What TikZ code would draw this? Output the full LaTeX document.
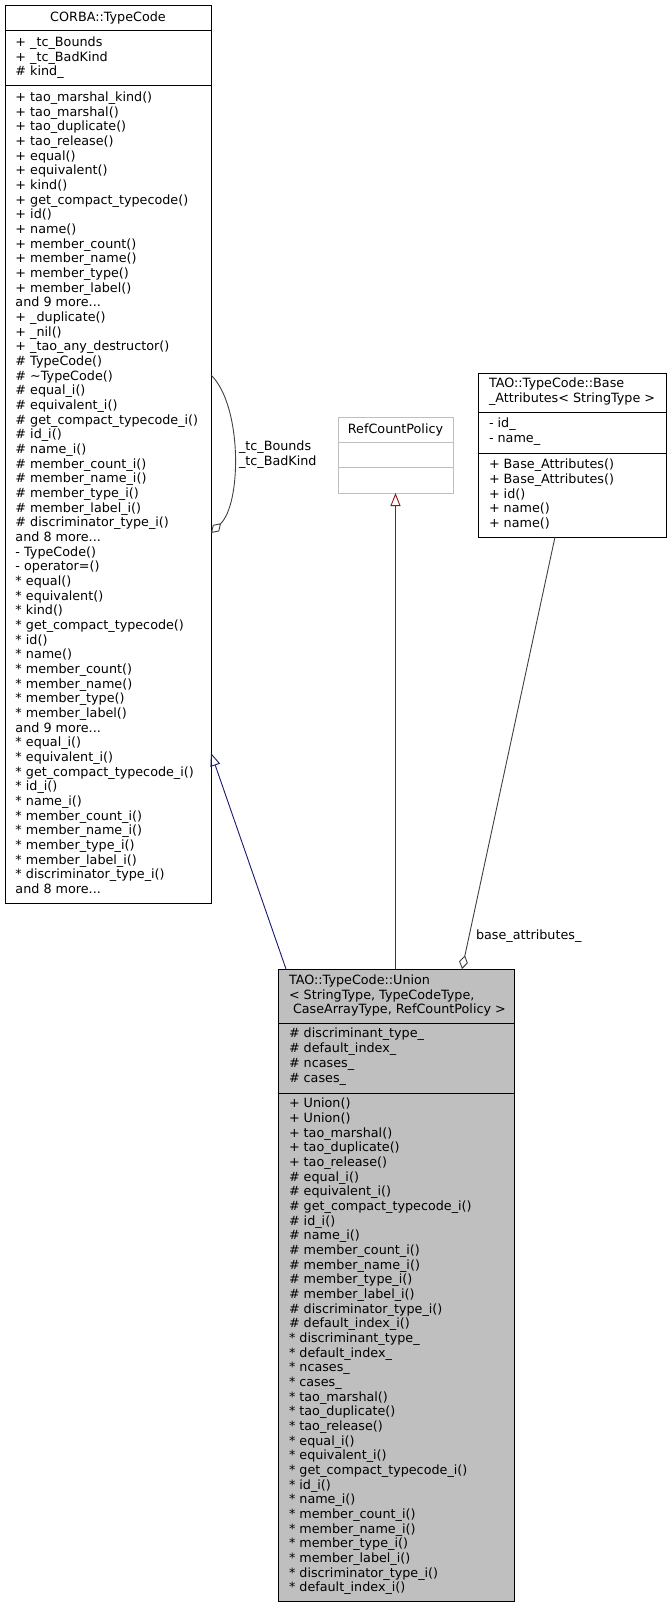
\documentclass[tikz,border=0pt]{standalone}
\usepackage{fontspec}
\setmainfont{DejaVu Sans}
\usetikzlibrary{arrows.meta,calc}
\definecolor{midnightblue}{HTML}{191970}
\definecolor{firebrickfour}{HTML}{8B1A1A}
\definecolor{greytf}{HTML}{404040}
\definecolor{unionfill}{HTML}{BFBFBF}
\newcommand\umlfont{\fontsize{12.75}{14.67}\selectfont}
\begin{document}
\begin{tikzpicture}[x=1pt,y=-1pt,
  classbox/.style={draw=black,line width=1pt,inner sep=0pt,outer sep=0pt,anchor=north west},
  txt/.style={inner sep=0pt,outer sep=0pt,anchor=north west,align=left,font=\umlfont,
    execute at begin node={\rule{0pt}{10pt}}},
  ttl/.style={inner sep=0pt,outer sep=0pt,anchor=base,align=center,font=\umlfont},
  conn/.style={line width=0.9pt}]
\useasboundingbox (0,0) rectangle (671,1608);

% ---------------- CORBA::TypeCode ----------------
\node[classbox,minimum width=206pt,minimum height=897pt] (corba) at (5,6) {};
\draw[line width=1pt] ([yshift=-25pt]corba.north west) -- ([yshift=-25pt]corba.north east);
\draw[line width=1pt] ([yshift=-80pt]corba.north west) -- ([yshift=-80pt]corba.north east);
\node[ttl] (corbattl) at (108,21.5) {CORBA::TypeCode};
\node[txt] (corbaattr) at (15.5,36.7) {+ \_tc\_Bounds\\+ \_tc\_BadKind\\\# kind\_};
\node[txt] (corbameth) at (15.5,91.7) {+ tao\_marshal\_kind()\\
+ tao\_marshal()\\
+ tao\_duplicate()\\
+ tao\_release()\\
+ equal()\\
+ equivalent()\\
+ kind()\\
+ get\_compact\_typecode()\\
+ id()\\
+ name()\\
+ member\_count()\\
+ member\_name()\\
+ member\_type()\\
+ member\_label()\\
and 9 more...\\
+ \_duplicate()\\
+ \_nil()\\
+ \_tao\_any\_destructor()\\
\# TypeCode()\\
\# \textasciitilde TypeCode()\\
\# equal\_i()\\
\# equivalent\_i()\\
\# get\_compact\_typecode\_i()\\
\# id\_i()\\
\# name\_i()\\
\# member\_count\_i()\\
\# member\_name\_i()\\
\# member\_type\_i()\\
\# member\_label\_i()\\
\# discriminator\_type\_i()\\
and 8 more...\\
- TypeCode()\\
- operator=()\\
* equal()\\
* equivalent()\\
* kind()\\
* get\_compact\_typecode()\\
* id()\\
* name()\\
* member\_count()\\
* member\_name()\\
* member\_type()\\
* member\_label()\\
and 9 more...\\
* equal\_i()\\
* equivalent\_i()\\
* get\_compact\_typecode\_i()\\
* id\_i()\\
* name\_i()\\
* member\_count\_i()\\
* member\_name\_i()\\
* member\_type\_i()\\
* member\_label\_i()\\
* discriminator\_type\_i()\\
and 8 more...};

% ---------------- RefCountPolicy ----------------
\node[classbox,draw=unionfill,minimum width=115pt,minimum height=76pt] (refcp) at (338,417) {};
\draw[line width=1pt,unionfill] ([yshift=-25pt]refcp.north west) -- ([yshift=-25pt]refcp.north east);
\draw[line width=1pt,unionfill] ([yshift=-50pt]refcp.north west) -- ([yshift=-50pt]refcp.north east);
\node[ttl] (refcpttl) at (395.5,433) {RefCountPolicy};

% ---------------- Base_Attributes ----------------
\node[classbox,minimum width=188pt,minimum height=164pt] (base) at (478,373) {};
\draw[line width=1pt] ([yshift=-39pt]base.north west) -- ([yshift=-39pt]base.north east);
\draw[line width=1pt] ([yshift=-80pt]base.north west) -- ([yshift=-80pt]base.north east);
\node[txt] (basettl) at (489,378.3) {TAO::TypeCode::Base\\\_Attributes< StringType >};
\node[txt] (baseattr) at (489,418.3) {- id\_\\- name\_};
\node[txt] (basemeth) at (489,459) {+ Base\_Attributes()\\
+ Base\_Attributes()\\
+ id()\\
+ name()\\
+ name()};

% ---------------- Union ----------------
\node[classbox,fill=unionfill,minimum width=236pt,minimum height=632pt] (union) at (278,969) {};
\draw[line width=1pt] ([yshift=-54pt]union.north west) -- ([yshift=-54pt]union.north east);
\draw[line width=1pt] ([yshift=-124pt]union.north west) -- ([yshift=-124pt]union.north east);
\node[txt] (unionttl) at (289,974.7) {TAO::TypeCode::Union\\
< StringType, TypeCodeType,\\
\kern4pt CaseArrayType, RefCountPolicy >};
\node[txt] (unionattr) at (289,1028.3) {\# discriminant\_type\_\\
\# default\_index\_\\
\# ncases\_\\
\# cases\_};
\node[txt] (unionmeth) at (289,1098) {+ Union()\\
+ Union()\\
+ tao\_marshal()\\
+ tao\_duplicate()\\
+ tao\_release()\\
\# equal\_i()\\
\# equivalent\_i()\\
\# get\_compact\_typecode\_i()\\
\# id\_i()\\
\# name\_i()\\
\# member\_count\_i()\\
\# member\_name\_i()\\
\# member\_type\_i()\\
\# member\_label\_i()\\
\# discriminator\_type\_i()\\
\# default\_index\_i()\\
* discriminant\_type\_\\
* default\_index\_\\
* ncases\_\\
* cases\_\\
* tao\_marshal()\\
* tao\_duplicate()\\
* tao\_release()\\
* equal\_i()\\
* equivalent\_i()\\
* get\_compact\_typecode\_i()\\
* id\_i()\\
* name\_i()\\
* member\_count\_i()\\
* member\_name\_i()\\
* member\_type\_i()\\
* member\_label\_i()\\
* discriminator\_type\_i()\\
* default\_index\_i()};

% ---------------- connectors ----------------
\draw[conn,midnightblue,-{Triangle[open,length=13pt,width=10pt]}]
  ([xshift=8pt]union.north west) -- ([yshift=-747pt]corba.north east);
\draw[conn,firebrickfour,-{Triangle[open,length=13pt,width=10pt]}]
  (refcp.south |- union.north) -- (refcp.south);
\draw[conn,greytf,{Diamond[open,length=14pt,width=9pt]}-]
  ([xshift=184pt]union.north west) -- ([xshift=77pt]base.south west);
\node[ttl,anchor=base west] (baselbl) at (476,939) {base\_attributes\_};
\draw[conn,greytf,-{Diamond[open,length=14pt,width=9pt]}]
  ([yshift=-369pt]corba.north east) .. controls +(31,30) and +(31,-30) .. ([yshift=-527pt]corba.north east);
\node[txt] (looplbl) at (239,440.7) {\_tc\_Bounds\\\_tc\_BadKind};
\end{tikzpicture}
\end{document}
